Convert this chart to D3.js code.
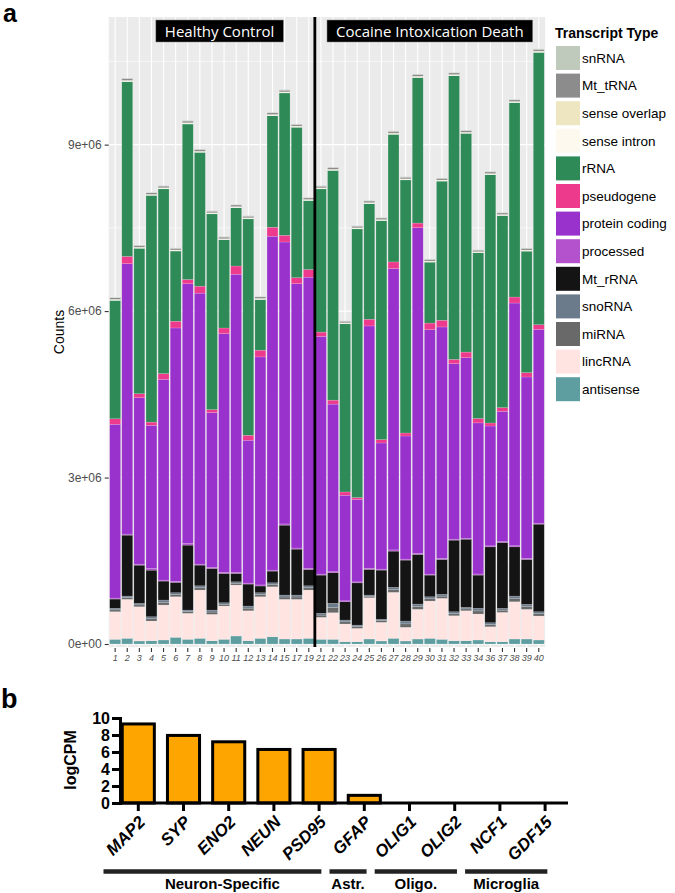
<!DOCTYPE html>
<html>
<head>
<meta charset="utf-8">
<script src="https://cdn.jsdelivr.net/npm/d3@7"></script>
<style>
body { margin: 0; background: #fff; }
svg { font-family: "Liberation Sans", Arial, Helvetica, sans-serif; }
</style>
</head>
<body>
<div id="chart"></div>
<script>
var svgWidth = 675;
var svgHeight = 893;

// ---- panel a data ----
var samples = ["1","2","3","4","5","6","7","8","9","10","11","12","13","14","15","17","19",
    "21","22","23","24","25","26","27","28","29","30","31","32","33","34","36","37","38","39","40"];

// stacking order, bottom to top
var transcriptTypes = ["antisense","lincRNA","miRNA","snoRNA","Mt_rRNA","processed","protein coding",
    "pseudogene","rRNA","sense intron","sense overlap","Mt_tRNA","snRNA"];
var typeColors = ["#5f9ea0","#ffe4e1","#696969","#6c7b8b","#141414","#b452cd","#9932cc",
    "#ee3a8c","#2e8b57","#fdf9ee","#ede6c0","#8c8c8c","#bfcabd"];

// read counts per sample, thousands
var antisense = [85,103,54,59,72,121,85,103,59,85,144,59,103,131,90,90,103,
    85,85,41,41,90,54,103,54,90,103,85,59,59,72,41,41,90,90,72];
var lincRNA = [497,702,617,355,630,731,468,869,475,599,918,540,749,900,715,715,869,
    396,479,319,241,743,337,828,247,535,671,738,450,540,468,270,529,671,535,432];
var miRNA = [34,32,34,42,50,40,32,42,42,32,32,47,40,40,42,42,42,
    40,93,40,32,27,30,50,62,52,42,40,40,34,57,40,40,57,50,42];
var snoRNA = [27,27,27,35,40,32,27,35,35,27,27,38,32,32,35,35,35,
    32,76,32,27,22,24,40,51,43,35,32,32,27,46,32,32,46,40,35];
var MtrRNA = [167,1098,689,840,342,187,1170,373,751,529,151,396,121,211,1260,828,295,
    689,551,329,761,463,887,653,1098,895,391,630,1291,1229,599,1368,1188,887,810,1579];
var processed = [18,20,18,30,18,20,30,18,18,20,22,18,20,18,22,20,18,
    18,20,18,18,20,18,22,18,20,18,20,18,18,20,18,18,20,18,18];
var proteinCoding = [3132,4872,3000,2579,3618,4565,4680,4883,2790,4302,5369,2574,4109,6017,5081,4764,5249,
    4284,3019,1902,1483,4367,2273,5071,2219,5868,4405,4169,3163,3253,2723,2160,2345,4374,3269,3492];
var pseudogene = [99,131,72,59,103,121,77,126,54,101,149,90,121,162,121,108,139,
    77,72,59,36,121,61,119,54,83,119,121,77,101,79,54,67,108,79,85];
var rRNA = [2133,3150,2621,4086,3330,1265,2802,2412,3528,1591,1051,3900,913,2010,2565,2711,1242,
    2581,4140,3031,4842,2082,3947,2299,4561,2623,1098,2507,5112,3942,2988,4476,3461,3504,2189,4907];
var senseIntron = [12,14,12,11,13,12,14,12,12,11,13,12,12,14,12,13,12,
    12,13,11,12,12,11,13,12,14,12,12,13,12,11,12,12,13,12,14];
var senseOverlap = [8,9,8,8,7,8,9,8,8,8,7,8,8,9,8,8,8,
    8,8,7,8,8,8,9,8,9,8,8,8,8,7,8,8,8,8,9];
var MttRNA = [28,30,27,28,29,27,30,28,27,28,29,27,28,30,29,28,27,
    28,29,27,28,28,27,30,28,30,27,28,29,28,27,28,27,29,28,30];
var snRNA = [10,11,10,10,9,10,11,10,10,10,9,10,10,11,10,10,10,
    10,10,9,10,10,10,11,10,11,10,10,10,10,9,10,10,10,10,11];

var seriesByType = {
    "antisense": antisense, "lincRNA": lincRNA, "miRNA": miRNA, "snoRNA": snoRNA,
    "Mt_rRNA": MtrRNA, "processed": processed, "protein coding": proteinCoding,
    "pseudogene": pseudogene, "rRNA": rRNA, "sense intron": senseIntron,
    "sense overlap": senseOverlap, "Mt_tRNA": MttRNA, "snRNA": snRNA
};

var yTicksA = [0, 3e6, 6e6, 9e6];
var yMinorA = [1.5e6, 4.5e6, 7.5e6, 10.5e6];
var facetLabels = ["Healthy Control", "Cocaine Intoxication Death"];

// ---- panel b data ----
var genes = ["MAP2","SYP","ENO2","NEUN","PSD95","GFAP","OLIG1","OLIG2","NCF1","GDF15"];
var logCPM = [9.3, 7.95, 7.2, 6.3, 6.3, 0.9, 0, 0, 0, 0];
var yTicksB = [0, 2, 4, 6, 8, 10];
var cellGroups = ["Neuron-Specific", "Astr.", "Oligo.", "Microglia"];
var groupFirst = ["MAP2", "GFAP", "OLIG1", "NCF1"];
var groupLast = ["PSD95", "GFAP", "OLIG2", "GDF15"];

var svg = d3.select("#chart")
    .append("svg")
    .attr("width", svgWidth)
    .attr("height", svgHeight);

// ================= panel a =================
var panel = { left: 109.7, right: 544.2, top: 17, bottom: 647 };

var xA = d3.scaleBand()
    .domain(samples)
    .range([panel.left, panel.right])
    .paddingInner(0.1)
    .paddingOuter(0);

var yA = d3.scaleLinear()
    .domain([-54000, 11300000])
    .range([panel.bottom, panel.top]);

// grey background
svg.append("rect")
    .attr("x", panel.left - 1)
    .attr("y", panel.top)
    .attr("width", panel.right - panel.left + 2)
    .attr("height", panel.bottom - panel.top)
    .attr("fill", "#ebebeb");

// grid lines
svg.selectAll(".minorA")
    .data(yMinorA)
    .enter()
    .append("line")
    .attr("x1", panel.left - 1)
    .attr("x2", panel.right + 1)
    .attr("y1", d => yA(d))
    .attr("y2", d => yA(d))
    .attr("stroke", "#fff")
    .attr("stroke-width", 0.6);

svg.selectAll(".majorA")
    .data(yTicksA)
    .enter()
    .append("line")
    .attr("x1", panel.left - 1)
    .attr("x2", panel.right + 1)
    .attr("y1", d => yA(d))
    .attr("y2", d => yA(d))
    .attr("stroke", "#fff")
    .attr("stroke-width", 1.1);

svg.selectAll(".vgrid")
    .data(samples)
    .enter()
    .append("line")
    .attr("x1", d => xA(d) + xA.bandwidth() / 2)
    .attr("x2", d => xA(d) + xA.bandwidth() / 2)
    .attr("y1", panel.top)
    .attr("y2", panel.bottom)
    .attr("stroke", "#fff")
    .attr("stroke-width", 1.1);

// stacked bars
var tableA = samples.map(function (s, i) {
    var row = { sample: s };
    transcriptTypes.forEach(function (t) {
        row[t] = seriesByType[t][i] * 1000;
    });
    return row;
});

var stacked = d3.stack().keys(transcriptTypes)(tableA);

svg.append("g")
    .selectAll("g")
    .data(stacked)
    .enter()
    .append("g")
    .attr("fill", (d, i) => typeColors[i])
    .selectAll("rect")
    .data(d => d)
    .enter()
    .append("rect")
    .attr("x", d => xA(d.data.sample))
    .attr("y", d => yA(d[1]))
    .attr("width", xA.bandwidth())
    .attr("height", d => yA(d[0]) - yA(d[1]))
    .attr("stroke", "#ffffff")
    .attr("stroke-opacity", 0.3)
    .attr("stroke-width", 0.5);

// separator between the two groups
var sepX = (xA("19") + xA.bandwidth() + xA("21")) / 2;
svg.append("line")
    .attr("x1", sepX)
    .attr("x2", sepX)
    .attr("y1", panel.top)
    .attr("y2", panel.bottom)
    .attr("stroke", "#000")
    .attr("stroke-width", 2.8);

// facet labels
var facetCenters = [xA("10") + 1, xA("30") + xA.bandwidth() / 2];
facetLabels.forEach(function (lab, i) {
    var g = svg.append("g");
    var txt = g.append("text")
        .attr("x", facetCenters[i])
        .attr("y", 36.5)
        .attr("text-anchor", "middle")
        .attr("fill", "#fff")
        .style("font-family", "'Open Sans', sans-serif")
        .style("font-size", "15px")
        .text(lab);
    var bb = txt.node().getBBox();
    g.insert("rect", "text")
        .attr("x", bb.x - 9)
        .attr("y", 20)
        .attr("width", bb.width + 18)
        .attr("height", 22)
        .attr("fill", "#000")
        .attr("stroke", "#888")
        .attr("stroke-width", 0.5);
});

// axes
var leftAxisA = d3.axisLeft(yA)
    .tickValues(yTicksA)
    .tickSize(4)
    .tickPadding(3)
    .tickFormat(d => d === 0 ? "0e+00" : (d / 1e6) + "e+06");

var gyA = svg.append("g")
    .attr("transform", `translate(${panel.left - 1}, 0)`)
    .call(leftAxisA);
gyA.select(".domain").remove();
gyA.selectAll("line").attr("stroke", "#333").attr("stroke-width", 1.1);
gyA.selectAll("text")
    .attr("fill", "#4d4d4d")
    .style("font-size", "12px");

var bottomAxisA = d3.axisBottom(xA)
    .tickSize(4)
    .tickPadding(3);

var gxA = svg.append("g")
    .attr("transform", `translate(0, ${panel.bottom + 1})`)
    .call(bottomAxisA);
gxA.select(".domain").remove();
gxA.selectAll("line").attr("stroke", "#333").attr("stroke-width", 1.1);
gxA.selectAll("text")
    .attr("fill", "#4d4d4d")
    .style("font-size", "9px")
    .style("font-style", "italic");

svg.append("text")
    .attr("transform", `translate(64, ${(panel.top + panel.bottom) / 2}) rotate(-90)`)
    .attr("text-anchor", "middle")
    .style("font-size", "14px")
    .text("Counts");

// legend
var legend = svg.append("g").attr("transform", "translate(556, 0)");
legend.append("text")
    .attr("x", -1)
    .attr("y", 38)
    .style("font-size", "14px")
    .style("font-weight", "bold")
    .text("Transcript Type");

var legendTypes = transcriptTypes.slice().reverse();
var legendColors = typeColors.slice().reverse();

legend.selectAll(".key")
    .data(legendTypes)
    .enter()
    .append("rect")
    .attr("x", 0)
    .attr("y", (d, i) => 46 + i * 27.6)
    .attr("width", 24)
    .attr("height", 24)
    .attr("fill", (d, i) => legendColors[i]);

legend.selectAll(".lab")
    .data(legendTypes)
    .enter()
    .append("text")
    .attr("x", 26)
    .attr("y", (d, i) => 58 + i * 27.6)
    .attr("dy", "0.35em")
    .style("font-size", "13.5px")
    .text(d => d);

svg.append("text")
    .attr("x", 3)
    .attr("y", 22)
    .style("font-size", "25px")
    .style("font-weight", "bold")
    .text("a");

// ================= panel b =================
var xB = d3.scaleBand()
    .domain(genes)
    .range([115.7, 567.7])
    .paddingInner(0.29)
    .paddingOuter(0.145);

var yB = d3.scaleLinear()
    .domain([0, 10])
    .range([803, 718]);

svg.selectAll(".barB")
    .data(genes)
    .enter()
    .append("rect")
    .attr("x", d => xB(d))
    .attr("y", (d, i) => yB(logCPM[i]))
    .attr("width", xB.bandwidth())
    .attr("height", (d, i) => yB(0) - yB(logCPM[i]))
    .attr("fill", "#ffa500")
    .attr("stroke", "#000")
    .attr("stroke-width", 3);

var leftAxisB = d3.axisLeft(yB)
    .tickValues(yTicksB)
    .tickSize(8)
    .tickPadding(2);

var gyB = svg.append("g")
    .attr("transform", "translate(120, 0)")
    .call(leftAxisB);
gyB.select(".domain").attr("stroke-width", 3);
gyB.selectAll("line").attr("stroke-width", 3);
gyB.selectAll("text")
    .attr("fill", "#000")
    .style("font-size", "16px")
    .style("font-weight", "bold");

var bottomAxisB = d3.axisBottom(xB)
    .tickSize(8)
    .tickSizeOuter(0);

var gxB = svg.append("g")
    .attr("transform", "translate(0, 803)")
    .call(bottomAxisB);
gxB.select(".domain")
    .attr("d", "M120,0H568")
    .attr("stroke-width", 3);
gxB.selectAll("line").attr("stroke-width", 3);
gxB.selectAll("text")
    .attr("text-anchor", "end")
    .attr("dy", 0)
    .attr("y", 0)
    .attr("transform", "translate(8, 20) rotate(-45)")
    .attr("fill", "#000")
    .style("font-size", "17px")
    .style("font-weight", "bold")
    .style("font-style", "italic");

svg.append("text")
    .attr("transform", "translate(76, 760) rotate(-90)")
    .attr("text-anchor", "middle")
    .style("font-size", "16px")
    .style("font-weight", "bold")
    .text("logCPM");

// cell type groups
var step = xB.step();
cellGroups.forEach(function (name, i) {
    var x1 = xB(groupFirst[i]) + xB.bandwidth() / 2 - step * 0.77;
    var x2 = xB(groupLast[i]) + xB.bandwidth() / 2 + step * 0.05;
    svg.append("line")
        .attr("x1", x1)
        .attr("x2", x2)
        .attr("y1", 871.5)
        .attr("y2", 871.5)
        .attr("stroke", "#222")
        .attr("stroke-width", 4.5);
    svg.append("text")
        .attr("x", (x1 + x2) / 2 + (i === 0 ? 10 : 0))
        .attr("y", 889)
        .attr("text-anchor", "middle")
        .style("font-size", "15px")
        .style("font-weight", "bold")
        .text(name);
});

svg.append("text")
    .attr("x", 1)
    .attr("y", 708)
    .style("font-size", "27px")
    .style("font-weight", "bold")
    .text("b");
</script>
</body>
</html>
